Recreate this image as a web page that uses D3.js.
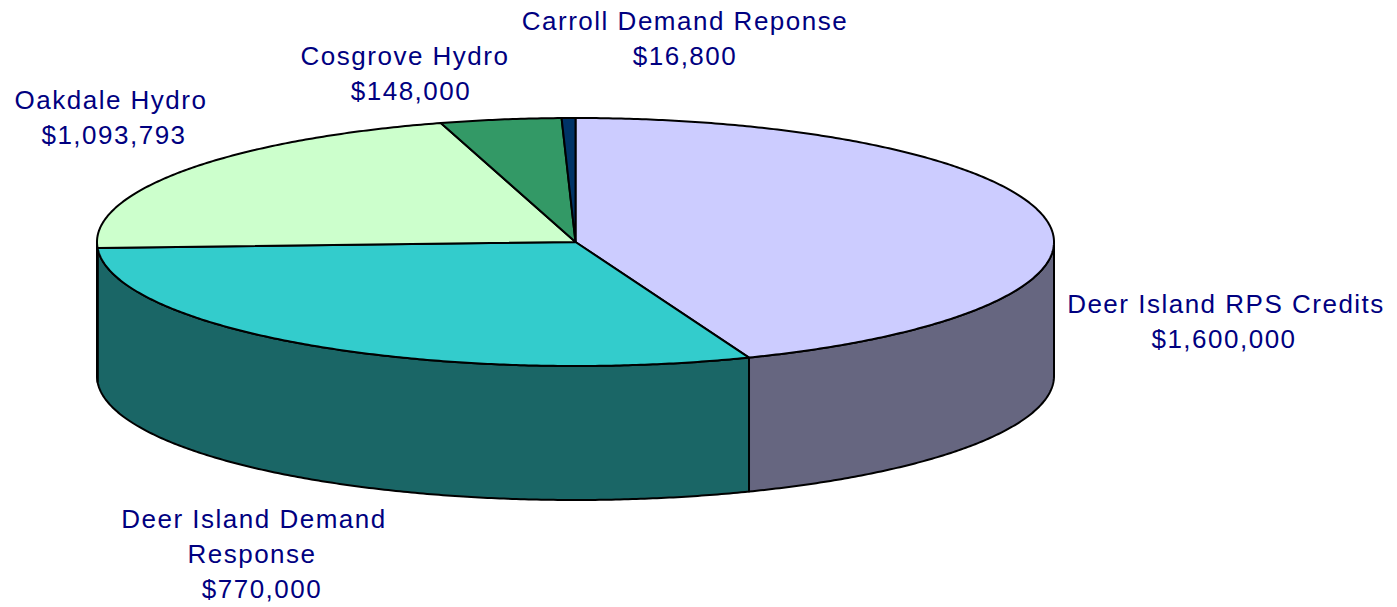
<!DOCTYPE html>
<html>
<head>
<meta charset="utf-8">
<script src="https://cdn.jsdelivr.net/npm/d3@7"></script>
<style>
  html, body { margin: 0; padding: 0; background: #ffffff; }
  svg { display: block; }
  text { font-family: "Liberation Sans", Arial, sans-serif; }
</style>
</head>
<body>
<svg id="chart" width="1397" height="607"></svg>
<script>
// ---- data (slice order as drawn, clockwise from 12 o'clock) ----
const categories = ["Deer Island RPS Credits", "Oakdale Hydro", "Deer Island Demand Response", "Cosgrove Hydro", "Carroll Demand Reponse"];
const values = [1600000, 1093793, 770000, 148000, 16800];
const topColors = ["#CCCCFF", "#33CCCC", "#CCFFCC", "#339966", "#003366"];
const sideColors = ["#666680", "#1A6666", "#668066", "#1A4D33", "#001A33"];
// label text lines as shown in the picture
const labelLines = [
  ["Deer Island RPS Credits", "$1,600,000"],
  ["Oakdale Hydro", "$1,093,793"],
  ["Deer Island Demand", "Response", "$770,000"],
  ["Cosgrove Hydro", "$148,000"],
  ["Carroll Demand Reponse", "$16,800"]
];
// label layout: [x of each line centre], first baseline
const labelLayout = [
  { xs: [1226, 1224], y: 313 },
  { xs: [111, 114], y: 109 },
  { xs: [254, 252, 262], y: 528 },
  { xs: [405, 411], y: 65 },
  { xs: [685, 685], y: 30 }
];

// ---- geometry ----
const cx = 575.5, cy = 242, rx = 478.5, ry = 124, depth = 134;
const svg = d3.select("#chart");
svg.append("rect").attr("width", 1397).attr("height", 607).attr("fill", "#ffffff");

const pie = d3.pie().sort(null).startAngle(0).endAngle(2 * Math.PI);
const arcs = pie(values);

function pt(a, dy) {
  return [cx + rx * Math.sin(a), cy - ry * Math.cos(a) + (dy || 0)];
}
function arcPoints(a0, a1, dy) {
  const n = Math.max(2, Math.ceil(Math.abs(a1 - a0) / (Math.PI / 360)));
  const pts = [];
  for (let i = 0; i <= n; i++) pts.push(pt(a0 + (a1 - a0) * i / n, dy));
  return pts;
}
const line = d3.line();

// side walls (front half only)
const sides = svg.append("g");
arcs.forEach((d, i) => {
  const s = Math.max(d.startAngle, Math.PI / 2);
  const e = Math.min(d.endAngle, 3 * Math.PI / 2);
  if (s >= e) return;
  const pts = arcPoints(s, e, 0).concat(arcPoints(e, s, depth));
  sides.append("path")
    .attr("d", line(pts) + "Z")
    .attr("fill", sideColors[i])
    .attr("stroke", "#000")
    .attr("stroke-width", 2)
    .attr("stroke-linejoin", "round");
});

// top faces
const tops = svg.append("g");
arcs.forEach((d, i) => {
  const pts = [[cx, cy]].concat(arcPoints(d.startAngle, d.endAngle, 0));
  tops.append("path")
    .attr("d", line(pts) + "Z")
    .attr("fill", topColors[i])
    .attr("stroke", "#000")
    .attr("stroke-width", 2)
    .attr("stroke-linejoin", "round");
});

// labels
const labels = svg.append("g");
labelLines.forEach((lines, i) => {
  const L = labelLayout[i];
  lines.forEach((t, j) => {
    labels.append("text")
      .attr("x", L.xs[j])
      .attr("y", L.y + j * 35)
      .attr("text-anchor", "middle")
      .attr("font-size", 26)
      .attr("letter-spacing", 1.5)
      .attr("fill", "#000080")
      .text(t);
  });
});
</script>
</body>
</html>
